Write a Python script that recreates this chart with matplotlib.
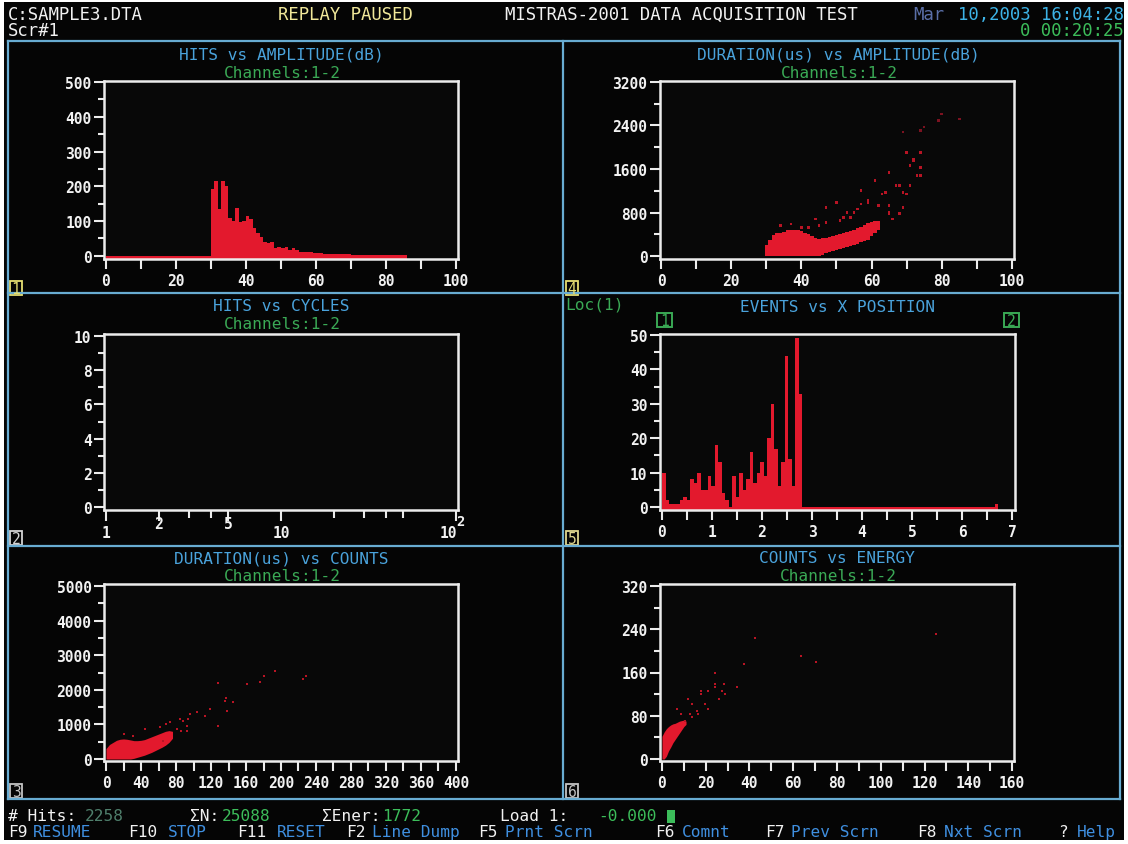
import numpy as np
import matplotlib
matplotlib.use("Agg")
import matplotlib.pyplot as plt
from matplotlib.patches import Rectangle
from matplotlib.lines import Line2D
from matplotlib.ticker import MultipleLocator, FixedLocator, NullFormatter

W, H = 1128, 845

# ---------------- data ----------------
# Panel 1: hits per 1 dB amplitude bin, 0..86 dB
amp_edges = np.arange(0, 87)
hits_per_db = [
    0, 0, 0, 0, 0, 0, 0, 0, 0, 0,
    0, 0, 0, 0, 0, 0, 0, 0, 0, 0,
    0, 0, 0, 0, 0, 0, 0, 0, 0, 0,
    192, 216, 135, 216, 200, 110, 100, 137, 97, 100,
    116, 105, 80, 65, 55, 40, 38, 40, 24, 25,
    22, 25, 17, 22, 16, 12, 12, 11, 10, 9,
    8, 7, 6, 6, 5, 5, 4, 6, 4, 4,
    3, 3, 3, 3, 2, 3, 2, 2, 2, 2,
    2, 2, 2, 2, 2, 2,
]

# Panel 4: duration vs amplitude, dense band per dB column plus scattered hits
band_amp = [30, 31, 32, 33, 34, 35, 36, 37, 38, 39, 40, 41, 42, 43, 44, 45, 46,
            47, 48, 49, 50, 51, 52, 53, 54, 55, 56, 57, 58, 59, 60, 61, 62]
band_dur_lo = [0, 0, 0, 0, 0, 0, 0, 0, 0, 0, 0, 0, 0, 0, 0, 0, 20,
               50, 70, 90, 110, 130, 150, 170, 190, 210, 230, 250, 270, 300, 360, 420, 470]
band_dur_hi = [200, 300, 380, 420, 430, 450, 470, 470, 480, 470, 460, 430, 400, 370, 330, 320, 330,
               340, 350, 370, 390, 400, 420, 440, 460, 480, 510, 540, 570, 600, 630, 650, 640]
pts_amp = [80, 79, 75, 74, 69, 85, 70, 74, 72, 71, 74, 65, 73, 74, 61, 68, 71, 63, 70, 57,
           59, 62, 65, 69, 65, 68, 50, 47, 53, 56, 54, 51, 47, 44, 37, 42, 45, 40, 34, 72,
           67, 69, 59, 57, 55, 52, 64, 62, 65, 66]
pts_dur = [2613, 2490, 2370, 2306, 2280, 2520, 1908, 1908, 1785, 1662, 1632, 1540, 1478, 1478,
           1386, 1294, 1294, 1140, 1140, 1202, 988, 926, 926, 896, 804, 780, 988, 896, 804, 865,
           712, 650, 620, 680, 590, 528, 560, 528, 560, 1754, 1294, 1172, 1018, 957, 804, 712,
           1172, 926, 773, 681]

# Panel 5: located events per 0.07 position bin, 0..6.72
pos_edges = np.round(np.arange(0, 97) * 0.07, 2)
events_per_bin = [
    10, 2, 1, 1, 1, 2, 3, 2, 8, 7, 10, 5, 5, 9, 6, 18, 13, 4, 2, 0,
    9, 3, 10, 5, 8, 16, 7, 10, 13, 9, 20, 30, 17, 6, 13, 44, 14, 6, 49, 33,
    0, 0, 0, 0, 0, 0, 0, 0, 0, 0, 0, 0, 0, 0, 0, 0, 0, 0, 0, 0,
    0, 0, 0, 0, 0, 0, 0, 0, 0, 0, 0, 0, 0, 0, 0, 0, 0, 0, 0, 0,
    0, 0, 0, 0, 0, 0, 0, 0, 0, 0, 0, 0, 0, 0, 0, 1,
]

# Panel 3: duration vs counts, dense band plus scattered hits
cnt_band = [0, 4, 8, 12, 16, 20, 24, 28, 32, 36, 40, 44, 48, 52, 56, 60, 64, 68, 72, 76]
cnt_dur_lo = [0, 0, 0, 0, 0, 0, 0, 0, 20, 50, 80, 110, 150, 190, 240, 290, 340, 400, 480, 600]
cnt_dur_hi = [300, 420, 480, 540, 570, 580, 570, 550, 530, 530, 540, 560, 600, 640, 680, 720,
              760, 800, 820, 800]
pts_cnt = [128, 161, 180, 193, 176, 225, 229, 137, 136, 145, 138, 113, 119, 128, 104, 96, 94,
           85, 88, 92, 81, 73, 69, 62, 86, 92, 45, 31, 20, 65]
pts_cnt_dur = [2196, 2167, 2407, 2552, 2216, 2312, 2407, 1754, 1685, 1638, 1396, 1251, 1445,
               962, 1367, 1300, 1156, 1156, 1107, 962, 867, 1060, 1011, 915, 819, 819, 867,
               674, 722, 530]

# Panel 6: counts vs energy, dense band plus scattered hits
en_band = [0, 1, 2, 3, 4, 5, 6, 7, 8, 9, 10, 11]
en_cnt_lo = [0, 0, 5, 15, 22, 30, 36, 42, 48, 54, 60, 64]
en_cnt_hi = [42, 50, 56, 60, 63, 65, 66, 68, 70, 71, 72, 70]
pts_en = [42.3, 63.7, 70.3, 125.4, 37.4, 24.2, 24.2, 24.2, 34.1, 27.6, 17.7, 17.7, 21, 26,
          11.9, 21, 13.6, 16, 16.5, 12.8, 13.6, 7, 8.6, 10.3, 19.7, 29, 28.3]
pts_en_cnt = [223, 191, 179, 231, 176, 160, 139, 133, 133, 126, 126, 120, 126, 111, 111, 92,
              102, 89, 83, 83, 77, 92, 83, 71, 102, 120, 139]

# Panel 2: log-scale cycle axis labels (value, text, raised)
cyc_labels = [(1, "1", False), (2, "2", True), (5, "5", True), (10, "10", False)]

# ---------------- style ----------------
plt.rcParams['font.family'] = ['DejaVu Sans Mono', 'DejaVu Sans']
BG = '#050505'
PANEL_BG = '#080808'
FRAME = '#ececec'
RED = '#e3192d'
RED_DIM = '#b81424'
RED_FAINT = '#7c1220'
WHITE = '#f2f2f2'
YELLOW = '#f1e89a'
CYAN = '#3db3e6'
DIMBLUE = '#5a6fa8'
GREEN = '#3cbd5a'
TITLE_BLUE = '#4aa3dc'
CH_GREEN = '#3aa955'
KEY_BLUE = '#3f8fe0'
DIM_VAL = '#4f7f6c'
GRID_BLUE = '#68acd2'
FS = 12.4
TITLE_FS = 11.6
FOOT_FS = 11.6
TICK_FS = 10.5

fig = plt.figure(figsize=(W / 100, H / 100), dpi=100, facecolor='white')

# full-figure overlay in pixel coordinates for the screen frame and text
ov = fig.add_axes([0, 0, 1, 1])
ov.set_xlim(0, W)
ov.set_ylim(H, 0)
ov.axis('off')
ov.add_patch(Rectangle((4, 3), 1120, 838, facecolor=BG, edgecolor='none'))


def txt(x, y, s, color, ha='left', size=FS, weight='normal'):
    ov.text(x, y, s, color=color, ha=ha, va='center', fontsize=size, fontweight=weight)


def hline(x0, x1, y):
    ov.add_line(Line2D([x0, x1], [y, y], color=GRID_BLUE, lw=1.6))


def vline(x, y0, y1):
    ov.add_line(Line2D([x, x], [y0, y1], color=GRID_BLUE, lw=1.6))


# screen dividers
hline(8, 1120, 42)
hline(8, 1120, 294)
hline(8, 1120, 547)
hline(8, 1120, 800)
vline(8, 42, 800)
vline(1120, 42, 800)
vline(563, 42, 800)

# header
txt(8, 15, "C:SAMPLE3.DTA", WHITE)
txt(8, 31, "Scr#1", WHITE)
txt(278, 15, "REPLAY PAUSED", YELLOW)
txt(505, 15, "MISTRAS-2001 DATA ACQUISITION TEST", WHITE)
txt(913, 15, "Mar", DIMBLUE)
txt(1124, 15, "10,2003 16:04:28", CYAN, ha='right')
txt(1124, 31, "0 00:20:25", GREEN, ha='right')

# footer status line
txt(8, 817, "# Hits:", WHITE, size=FOOT_FS)
txt(85, 817, "2258", DIM_VAL, size=FOOT_FS)
txt(190, 817, "\u03a3N:", WHITE, size=FOOT_FS)
txt(222, 817, "25088", GREEN, size=FOOT_FS)
txt(322, 817, "\u03a3Ener:", WHITE, size=FOOT_FS)
txt(382, 817, "1772", GREEN, size=FOOT_FS)
txt(500, 817, "Load 1:", WHITE, size=FOOT_FS)
txt(598, 817, "-0.000", GREEN, size=FOOT_FS)
ov.add_patch(Rectangle((667, 811), 8, 13, facecolor=GREEN, edgecolor='none'))

# footer function keys
keys = [(8, "F9", 33, "RESUME"), (128, "F10", 168, "STOP"), (237, "F11", 277, "RESET"),
        (346, "F2", 372, "Line Dump"), (478, "F5", 505, "Prnt Scrn"), (655, "F6", 682, "Comnt"),
        (765, "F7", 791, "Prev Scrn"), (917, "F8", 944, "Nxt Scrn"), (1058, "?", 1077, "Help")]
for kx, k, cx, c in keys:
    txt(kx, 833, k, WHITE, size=FOOT_FS)
    txt(cx, 833, c, KEY_BLUE, size=FOOT_FS)

# panel titles
titles = [
    (281, 55, "HITS vs AMPLITUDE(dB)", True),
    (838, 55, "DURATION(us) vs AMPLITUDE(dB)", True),
    (281, 307, "HITS vs CYCLES", True),
    (837, 308, "EVENTS vs X POSITION", False),
    (281, 559, "DURATION(us) vs COUNTS", True),
    (837, 559, "COUNTS vs ENERGY", True),
]
for tx, ty, t, ch in titles:
    txt(tx, ty, t, TITLE_BLUE, ha='center', size=TITLE_FS)
    if ch:
        txt(tx + 1, ty + 18, "Channels:1-2", CH_GREEN, ha='center', size=TITLE_FS)

txt(565, 305, "Loc(1)", CH_GREEN, size=TITLE_FS)
for bx, lab in [(657, "1"), (1004, "2")]:
    ov.add_patch(Rectangle((bx, 314), 15, 14, facecolor='none', edgecolor=CH_GREEN, lw=1.4))
    txt(bx + 7.5, 321.5, lab, CH_GREEN, ha='center', size=10.5)

# panel number boxes
for bx, by, lab, col in [(10, 282, "1", '#e6df72'), (566, 282, "4", '#e6df72'),
                         (10, 532, "2", '#d4d4d4'), (566, 532, "5", '#e0d890'),
                         (10, 785, "3", '#c4c4c4'), (566, 785, "6", '#c4c4c4')]:
    ov.add_patch(Rectangle((bx, by), 12, 14, facecolor='none', edgecolor=col, lw=1.3))
    txt(bx + 6, by + 7.5, lab, col, ha='center', size=10.5)


def make_panel(left, top, right, bottom, xlim, ylim):
    ax = fig.add_axes([left / W, 1 - bottom / H, (right - left) / W, (bottom - top) / H])
    ax.set_facecolor(PANEL_BG)
    ax.set_xlim(*xlim)
    ax.set_ylim(*ylim)
    for s in ax.spines.values():
        s.set_color(FRAME)
        s.set_linewidth(1.8)
    ax.tick_params(which='both', direction='out', colors=FRAME, labelcolor=WHITE,
                   width=1.5, labelsize=TICK_FS)
    ax.tick_params(axis='x', which='both', length=7, pad=3)
    ax.tick_params(axis='y', which='major', length=7, pad=2)
    ax.tick_params(axis='y', which='minor', length=4)
    ax.tick_params(top=False, right=False)
    return ax


def bold_labels(ax):
    for lbl in ax.get_xticklabels() + ax.get_yticklabels():
        lbl.set_fontweight('bold')


# Panel 1: hits vs amplitude
ax1 = make_panel(104, 82, 458, 260, (-0.5, 100.5), (-9, 503))
ax1.stairs(hits_per_db, amp_edges, baseline=-9, fill=True, color=RED, lw=0)
ax1.xaxis.set_major_locator(MultipleLocator(20))
ax1.xaxis.set_minor_locator(MultipleLocator(10))
ax1.yaxis.set_major_locator(MultipleLocator(100))
ax1.yaxis.set_minor_locator(MultipleLocator(50))
bold_labels(ax1)

# Panel 4: duration vs amplitude
ax4 = make_panel(660, 82, 1014, 260, (-0.3, 100.6), (-55, 3218))
ax4.bar(band_amp, np.array(band_dur_hi) - np.array(band_dur_lo), bottom=band_dur_lo,
        width=1.0, color=RED, lw=0)
pt_cols = [RED_DIM if d < 2200 else RED_FAINT for d in pts_dur]
ax4.scatter(pts_amp, pts_dur, s=3.5, marker='s', c=pt_cols, lw=0)
ax4.xaxis.set_major_locator(MultipleLocator(20))
ax4.xaxis.set_minor_locator(MultipleLocator(10))
ax4.yaxis.set_major_locator(MultipleLocator(800))
ax4.yaxis.set_minor_locator(MultipleLocator(400))
bold_labels(ax4)

# Panel 2: hits vs cycles (empty, log x)
ax2 = make_panel(104, 335, 458, 511, (0.974, 102.7), (-0.175, 10.12))
ax2.set_xscale('log')
ax2.set_xlim(0.974, 102.7)
ax2.xaxis.set_major_locator(FixedLocator([1, 2, 5, 10, 100]))
ax2.xaxis.set_minor_locator(FixedLocator([3, 4, 20, 30, 40, 50]))
ax2.xaxis.set_major_formatter(NullFormatter())
ax2.xaxis.set_minor_formatter(NullFormatter())
ax2.tick_params(axis='x', which='major', length=8)
ax2.tick_params(axis='x', which='minor', length=6)
ax2.yaxis.set_major_locator(MultipleLocator(2))
ax2.yaxis.set_minor_locator(MultipleLocator(1))
bold_labels(ax2)
xt = ax2.get_xaxis_transform()
for xv, s, raised in cyc_labels:
    ax2.text(xv, -0.075 if raised else -0.125, s, transform=xt, ha='center', va='center',
             color=WHITE, fontsize=TICK_FS, fontweight='bold')
ax2.text(101, -0.125, "10", transform=xt, ha='right', va='center',
         color=WHITE, fontsize=TICK_FS, fontweight='bold')
ax2.text(101, -0.06, "2", transform=xt, ha='left', va='center',
         color=WHITE, fontsize=TICK_FS - 0.5, fontweight='bold')

# Panel 5: events vs x position
ax5 = make_panel(660, 335, 1015, 511, (-0.04, 7.06), (-0.87, 50.3))
ax5.stairs(events_per_bin, pos_edges, baseline=-0.87, fill=True, color=RED, lw=0)
ax5.xaxis.set_major_locator(MultipleLocator(1))
ax5.xaxis.set_minor_locator(MultipleLocator(0.5))
ax5.yaxis.set_major_locator(MultipleLocator(10))
ax5.yaxis.set_minor_locator(MultipleLocator(5))
bold_labels(ax5)

# Panel 3: duration vs counts
ax3 = make_panel(104, 585, 458, 762, (-2.3, 402.3), (-58, 5058))
ax3.fill_between(cnt_band, cnt_dur_lo, cnt_dur_hi, color=RED, lw=0)
ax3.scatter(pts_cnt, pts_cnt_dur, s=3.5, marker='s', color=RED_DIM, lw=0)
ax3.xaxis.set_major_locator(MultipleLocator(40))
ax3.xaxis.set_minor_locator(MultipleLocator(20))
ax3.yaxis.set_major_locator(MultipleLocator(1000))
ax3.yaxis.set_minor_locator(MultipleLocator(500))
bold_labels(ax3)

# Panel 6: counts vs energy
ax6 = make_panel(660, 585, 1014, 762, (-0.9, 160.9), (-3.7, 323.7))
ax6.fill_between(en_band, en_cnt_lo, en_cnt_hi, color=RED, lw=0)
ax6.scatter(pts_en, pts_en_cnt, s=3.5, marker='s', color=RED_DIM, lw=0)
ax6.xaxis.set_major_locator(MultipleLocator(20))
ax6.xaxis.set_minor_locator(MultipleLocator(10))
ax6.yaxis.set_major_locator(MultipleLocator(80))
ax6.yaxis.set_minor_locator(MultipleLocator(40))
bold_labels(ax6)

fig.savefig("out.png", dpi=100, facecolor='white')
